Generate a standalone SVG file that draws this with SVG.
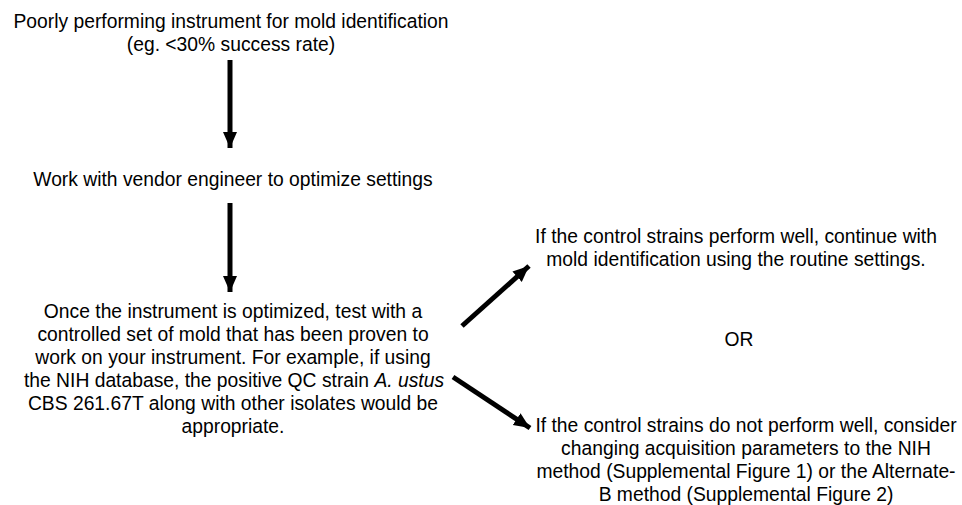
<svg xmlns="http://www.w3.org/2000/svg" width="962" height="505" viewBox="0 0 962 505">
<style>
text{font-family:"Liberation Sans",Arial,sans-serif;font-size:19.3px;fill:#000;text-anchor:middle}
.c{stroke:#000;stroke-width:5;fill:none}
</style>
<defs>
<marker id="ah" markerUnits="userSpaceOnUse" markerWidth="16" markerHeight="16" viewBox="0 0 16 16" refX="16" refY="8" orient="auto">
<path d="M0,1 L16,8 L0,15 Z" fill="#000"/>
</marker>
</defs>
<rect width="962" height="505" fill="#fff"/>
<g id="n1">
<text x="231" y="28">Poorly performing instrument for mold identification</text>
<text x="231" y="51">(eg. &lt;30% success rate)</text>
</g>
<g id="n2">
<text x="233" y="186">Work with vendor engineer to optimize settings</text>
</g>
<g id="n3">
<text x="233" y="318">Once the instrument is optimized, test with a</text>
<text x="233" y="341">controlled set of mold that has been proven to</text>
<text x="233" y="364">work on your instrument. For example, if using</text>
<text x="234" y="387">the NIH database, the positive QC strain <tspan font-style="italic">A. ustus</tspan></text>
<text x="233" y="410">CBS 261.67T along with other isolates would be</text>
<text x="233" y="433">appropriate.</text>
</g>
<g id="n4">
<text x="736" y="243">If the control strains perform well, continue with</text>
<text x="736" y="266">mold identification using the routine settings.</text>
</g>
<g id="or">
<text x="739" y="346">OR</text>
</g>
<g id="n5">
<text x="746" y="432">If the control strains do not perform well, consider</text>
<text x="746" y="455">changing acquisition parameters to the NIH</text>
<text x="746" y="478">method (Supplemental Figure 1) or the Alternate-</text>
<text x="746" y="501">B method (Supplemental Figure 2)</text>
</g>
<g id="connectors">
<line class="c" x1="230" y1="60" x2="230" y2="148" marker-end="url(#ah)"/>
<line class="c" x1="230" y1="203" x2="230" y2="292" marker-end="url(#ah)"/>
<line class="c" x1="462" y1="326" x2="529" y2="266" marker-end="url(#ah)"/>
<line class="c" x1="453" y1="377" x2="530" y2="428" marker-end="url(#ah)"/>
</g>
</svg>
